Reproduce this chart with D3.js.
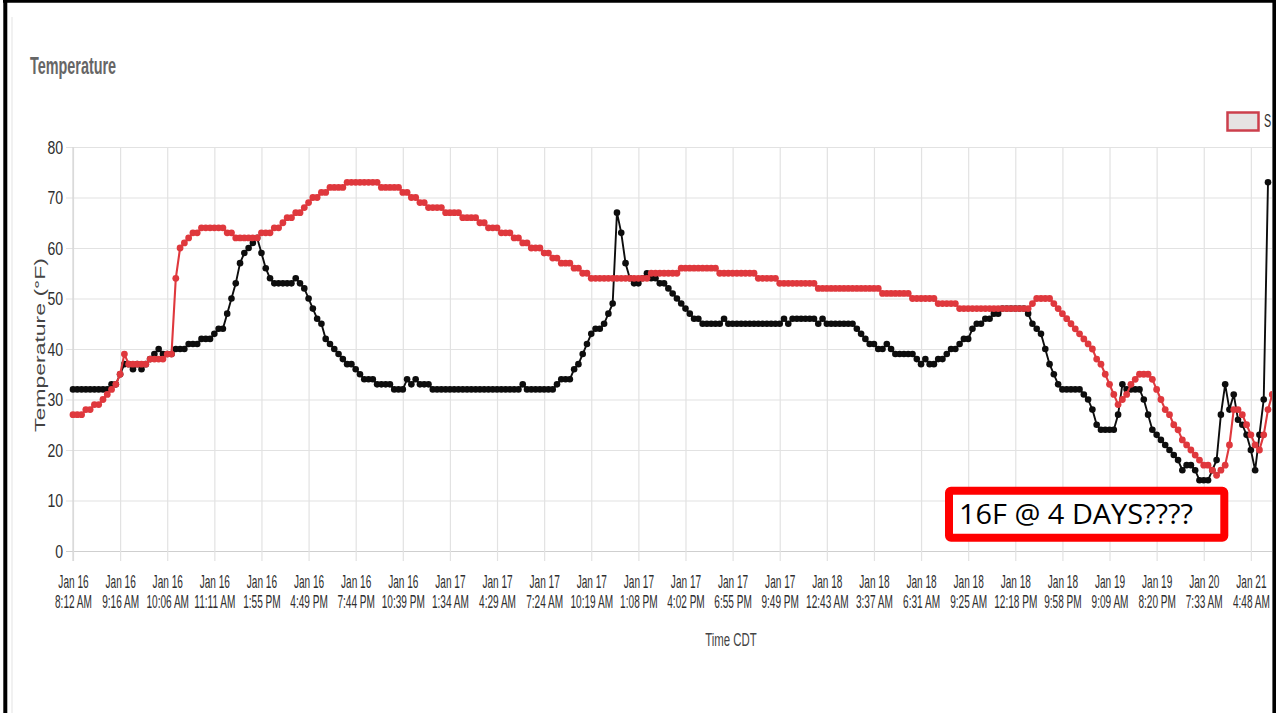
<!DOCTYPE html>
<html><head><meta charset="utf-8">
<script src="https://cdn.jsdelivr.net/npm/d3@7"></script>
<style>html,body{margin:0;padding:0;background:#fff;}svg{display:block;}</style>
</head><body>
<svg id="chart" width="1278" height="713"></svg>
<script>
// ---- data ----
const tickLabels = [
 ["Jan 16","8:12 AM"],["Jan 16","9:16 AM"],["Jan 16","10:06 AM"],["Jan 16","11:11 AM"],
 ["Jan 16","1:55 PM"],["Jan 16","4:49 PM"],["Jan 16","7:44 PM"],["Jan 16","10:39 PM"],
 ["Jan 17","1:34 AM"],["Jan 17","4:29 AM"],["Jan 17","7:24 AM"],["Jan 17","10:19 AM"],
 ["Jan 17","1:08 PM"],["Jan 17","4:02 PM"],["Jan 17","6:55 PM"],["Jan 17","9:49 PM"],
 ["Jan 18","12:43 AM"],["Jan 18","3:37 AM"],["Jan 18","6:31 AM"],["Jan 18","9:25 AM"],
 ["Jan 18","12:18 PM"],["Jan 18","9:58 PM"],["Jan 19","9:09 AM"],["Jan 19","8:20 PM"],
 ["Jan 20","7:33 AM"],["Jan 21","4:48 AM"]
];
const tickEvery = 11; // one labelled category every 11 readings
const yTicks = [0,10,20,30,40,50,60,70,80];

const blackSeries = [
 32,32,32,32,32,32,32,32,32,33,33,
 35,37,37,36,37,36,37,38,39,40,39,
 39,39,40,40,40,41,41,41,42,42,42,
 43,44,44,47,50,53,57,59,60,61,62,
 59,56,54,53,53,53,53,53,54,53,52,
 50,48,46,45,42,41,40,39,38,37,37,
 36,35,34,34,34,33,33,33,33,32,32,
 32,34,33,34,33,33,33,32,32,32,32,
 32,32,32,32,32,32,32,32,32,32,32,
 32,32,32,32,32,32,33,32,32,32,32,
 32,32,32,33,34,34,34,36,37,39,41,
 43,44,44,45,47,49,67,63,57,54,53,
 53,54,55,54,54,53,53,52,51,50,49,
 48,47,46,46,45,45,45,45,45,46,45,
 45,45,45,45,45,45,45,45,45,45,45,
 45,46,45,46,46,46,46,46,46,45,46,
 45,45,45,45,45,45,45,44,43,42,41,
 41,40,40,41,40,39,39,39,39,39,38,
 37,38,37,37,38,38,39,40,40,41,42,
 42,44,45,45,46,46,47,47,48,48,48,
 48,48,48,47,45,44,43,40,37,35,33,
 32,32,32,32,32,31,30,28,25,24,24,
 24,24,27,33,32,32,32,32,30,27,24,
 23,22,21,20,19,18,16,17,17,16,14,
 14,14,16,18,27,33,28,31,26,25,23,
 20,16,23,30,73
];
const redSeries = [
 27,27,27,28,28,29,29,30,31,32,33,
 35,39,37,37,37,37,37,38,38,38,38,
 39,39,54,60,61,62,63,63,64,64,64,
 64,64,64,63,63,62,62,62,62,62,62,
 63,63,63,64,64,65,66,66,67,67,68,
 69,70,70,71,71,72,72,72,72,73,73,
 73,73,73,73,73,73,72,72,72,72,72,
 71,71,70,70,69,69,68,68,68,68,67,
 67,67,67,66,66,66,66,65,65,64,64,
 64,63,63,63,62,62,61,61,60,60,60,
 59,59,58,58,57,57,57,56,56,55,55,
 54,54,54,54,54,54,54,54,54,54,54,
 54,54,54,55,55,55,55,55,55,55,56,
 56,56,56,56,56,56,56,56,55,55,55,
 55,55,55,55,55,55,54,54,54,54,54,
 53,53,53,53,53,53,53,53,53,52,52,
 52,52,52,52,52,52,52,52,52,52,52,
 52,52,51,51,51,51,51,51,51,50,50,
 50,50,50,50,49,49,49,49,49,48,48,
 48,48,48,48,48,48,48,48,48,48,48,
 48,48,48,48,49,50,50,50,50,49,48,
 47,46,45,44,43,42,41,40,38,37,35,
 33,31,29,30,31,33,34,35,35,35,34,
 32,30,28,27,25,24,22,21,20,19,18,
 17,17,16,15,16,17,21,28,28,27,25,
 23,21,20,23,28,31
];
const chartTitle = "Temperature";
const yTitle = "Temperature (°F)";
const xTitle = "Time CDT";
const legendLabel = "S";
const noteText = "16F @ 4 DAYS????";

// ---- layout ----
const svg = d3.select("#chart");
const W = 1278, H = 713;
const x = d3.scaleLinear().domain([0, 279]).range([73, 1268]);
const y = d3.scaleLinear().domain([0, 80]).range([551, 147]);
const FONT = "'Liberation Sans', Arial, sans-serif";
const TXT = "#2e2e2e";

svg.append("rect").attr("width", W).attr("height", H).attr("fill", "#fff");

// screenshot edge
svg.append("line").attr("x1", 12).attr("x2", 12).attr("y1", 17).attr("y2", H)
  .attr("stroke", "#ececec").attr("stroke-width", 1.5);

// title
svg.append("text").text(chartTitle)
  .attr("transform", "translate(30,74) scale(0.6,1)")
  .attr("font-family", FONT).attr("font-weight", "bold").attr("font-size", 24)
  .attr("fill", "#666");

// y grid + labels
const yAxis = d3.axisLeft(y).tickValues(yTicks).tickSizeInner(-(1272 - 73)).tickSizeOuter(0).tickPadding(10);
const gy = svg.append("g").attr("transform", "translate(73,0)").call(yAxis);
gy.select(".domain").remove();
gy.selectAll(".tick line").attr("x1", -7).attr("stroke", d => d === 0 ? "#cfcfcf" : "#e2e2e2").attr("stroke-width", 1.2);
gy.selectAll(".tick text").remove();
gy.selectAll(".tick").append("text")
  .attr("transform", "translate(-10,0) scale(0.78,1)")
  .attr("dy", "0.36em").attr("text-anchor", "end")
  .attr("font-family", FONT).attr("font-size", 18).attr("fill", TXT)
  .text(d => d);

// x grid + labels
const tickIdx = tickLabels.map((_, k) => k * tickEvery);
const xAxis = d3.axisBottom(x).tickValues(tickIdx).tickSizeInner(-(551 - 147)).tickSizeOuter(0);
const gx = svg.append("g").attr("transform", "translate(0,551)").call(xAxis);
gx.select(".domain").remove();
gx.selectAll(".tick line").attr("y1", 10).attr("stroke", "#e2e2e2").attr("stroke-width", 1.2);
gx.selectAll(".tick text").remove();
gx.selectAll(".tick").each(function(d, k) {
  const t = d3.select(this).append("text")
    .attr("transform", "scale(0.56,1)")
    .attr("text-anchor", "middle")
    .attr("font-family", FONT).attr("font-size", 18).attr("fill", TXT);
  t.append("tspan").attr("x", 0).attr("y", 37).text(tickLabels[k][0]);
  t.append("tspan").attr("x", 0).attr("y", 57).text(tickLabels[k][1]);
});
// y axis line
svg.append("line").attr("x1", 73).attr("x2", 73).attr("y1", 147).attr("y2", 561)
  .attr("stroke", "#d6d6d6").attr("stroke-width", 1.2);

// axis titles
svg.append("text").text(yTitle)
  .attr("transform", "translate(45,345) rotate(-90) scale(1,0.62)")
  .attr("text-anchor", "middle").attr("font-family", FONT).attr("font-size", 23)
  .attr("fill", "#444");
svg.append("text").text(xTitle)
  .attr("transform", "translate(731,646) scale(0.6,1)")
  .attr("text-anchor", "middle").attr("font-family", FONT).attr("font-size", 19)
  .attr("fill", "#444");

// legend
svg.append("rect").attr("x", 1227.5).attr("y", 112.5).attr("width", 31).attr("height", 18)
  .attr("fill", "#e6e3e3").attr("stroke", "#cc3f4c").attr("stroke-width", 2.5);
svg.append("text").text(legendLabel)
  .attr("transform", "translate(1264,127) scale(0.6,1)")
  .attr("font-family", FONT).attr("font-size", 18).attr("fill", TXT);

// series
svg.append("clipPath").attr("id", "plotclip").append("rect")
  .attr("x", 0).attr("y", 0).attr("width", 1272).attr("height", H);
const plot = svg.append("g").attr("clip-path", "url(#plotclip)");
const line = d3.line().x((d, i) => x(i)).y(d => y(d));
function drawSeries(data, color, lw, r) {
  plot.append("path").datum(data).attr("d", line)
    .attr("fill", "none").attr("stroke", color).attr("stroke-width", lw)
    .attr("stroke-linejoin", "round");
  plot.append("g").selectAll("circle").data(data).join("circle")
    .attr("cx", (d, i) => x(i)).attr("cy", d => y(d)).attr("r", r)
    .attr("fill", color);
}
drawSeries(blackSeries, "#0d0d0d", 1.9, 3.3);
drawSeries(redSeries, "#df383d", 2.1, 3.4);

// annotation box
svg.append("rect").attr("x", 949).attr("y", 490.7).attr("width", 275.3).attr("height", 47)
  .attr("rx", 2).attr("fill", "#fff").attr("stroke", "#ff0000").attr("stroke-width", 8);
svg.append("text").text(noteText)
  .attr("x", 959).attr("y", 524).attr("textLength", 234).attr("lengthAdjust", "spacingAndGlyphs")
  .attr("font-family", "'Open Sans', 'Noto Sans', sans-serif").attr("font-size", 28).attr("fill", "#000");

// frame
svg.append("rect").attr("x", 1276).attr("y", 0).attr("width", 2).attr("height", H).attr("fill", "#fff");
svg.append("line").attr("x1", 5.3).attr("x2", 5.3).attr("y1", 0).attr("y2", H).attr("stroke", "#000").attr("stroke-width", 4);
svg.append("line").attr("x1", 3).attr("x2", 1276).attr("y1", 1.3).attr("y2", 1.3).attr("stroke", "#000").attr("stroke-width", 2.8);
svg.append("line").attr("x1", 1274.2).attr("x2", 1274.2).attr("y1", 0).attr("y2", H).attr("stroke", "#000").attr("stroke-width", 3.6);
</script>
</body></html>
